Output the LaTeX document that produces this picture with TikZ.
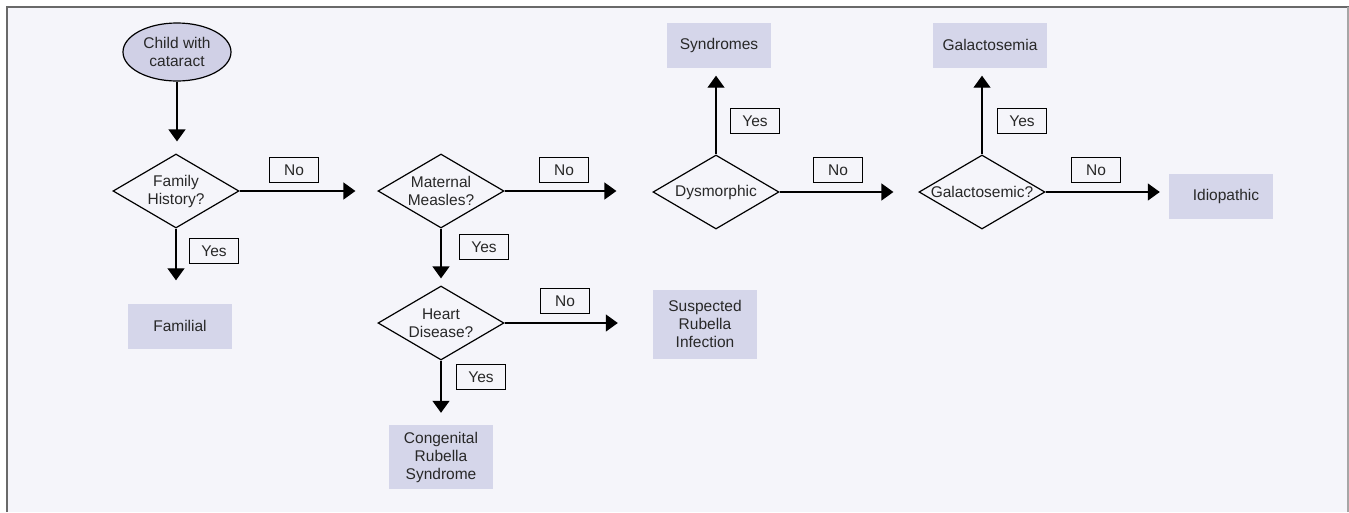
\documentclass[tikz,border=0pt]{standalone}
\usepackage{fontspec}
\setmainfont{Liberation Sans}
\usetikzlibrary{shapes.geometric,arrows.meta}
\definecolor{bgc}{RGB}{245,245,250}
\definecolor{boxc}{RGB}{213,214,234}
\definecolor{ellc}{RGB}{208,208,230}
\definecolor{framec}{RGB}{105,105,105}
\definecolor{txtc}{RGB}{40,40,40}
\begin{document}
\begin{tikzpicture}[x=1pt,y=-1pt,
  txt/.style={font=\fontsize{15.5}{18}\selectfont, align=center, text=txtc},
  result/.style={txt, fill=boxc, minimum width=104pt, minimum height=45pt, inner sep=0pt},
  dia/.style={draw, diamond, line width=1.2pt, minimum width=126pt, minimum height=74pt, inner sep=0pt},
  lab/.style={txt, draw, line width=1.2pt, minimum width=49pt, minimum height=25pt, inner sep=0pt},
  arr/.style={line width=1.3pt, -{Triangle[width=17pt,length=12pt]}}]
\useasboundingbox (0,0) rectangle (1349,512);
\fill[bgc] (7,7) rectangle (1349,512);
\draw[framec, line width=2pt] (7,512) -- (7,7) -- (1349,7);
\draw[black!35, line width=1.5pt] (1348,7) -- (1348,512);

% nodes
\node[ellipse, draw, line width=1.2pt, fill=ellc, minimum width=108pt, minimum height=58pt, inner sep=0pt, txt] (start) at (177,52) {Child with\\cataract};
\node[dia, label={[txt]center:{Family\\History?}}] (fh) at (176,191) {};
\node[result] (fam) at (180,326) {Familial};
\node[dia, label={[txt]center:{Maternal\\Measles?}}] (mm) at (441,191) {};
\node[dia, label={[txt]center:{Heart\\Disease?}}] (hd) at (441,323) {};
\node[result, minimum height=64pt] (crs) at (441,457) {Congenital\\Rubella\\Syndrome};
\node[result, minimum height=69pt] (sri) at (705,324) {Suspected\\Rubella\\Infection};
\node[dia, label={[txt]center:{Dysmorphic}}] (dys) at (716,192) {};
\node[result] (syn) at (719,45) {Syndromes};
\node[dia, label={[txt]center:{Galactosemic?}}] (gal) at (982,192) {};
\node[result, minimum width=114pt] (gsm) at (990,45) {Galactosemia};
\node[result] (idi) at (1221,196) {\hspace*{10pt}Idiopathic};

% yes/no labels
\node[lab] (l1) at (294,170) {No};
\node[lab] (l2) at (214,251) {Yes};
\node[lab] (l3) at (564,170) {No};
\node[lab] (l4) at (484,247) {Yes};
\node[lab] (l5) at (565,301) {No};
\node[lab] (l6) at (481,377) {Yes};
\node[lab] (l7) at (755,121) {Yes};
\node[lab] (l8) at (838,170) {No};
\node[lab] (l9) at (1022,121) {Yes};
\node[lab] (l10) at (1096,170) {No};

% connectors
\draw[arr, shorten >=12pt] (start.south) -- (start.south |- fh.north);
\draw[arr, shorten >=22pt] (fh.east) -- (fh.east -| mm.west);
\draw[arr, shorten >=23pt] (fh.south) -- (fh.south |- fam.north);
\draw[arr, shorten >=7pt] (mm.south) -- (hd.north);
\draw[arr, shorten >=36pt] (mm.east) -- (mm.east -| dys.west);
\draw[arr, shorten >=12pt] (hd.south) -- (hd.south |- crs.north);
\draw[arr, shorten >=35pt] (hd.east) -- (hd.east -| sri.west);
\draw[arr, shorten >=8pt] (dys.north) -- (dys.north |- syn.south);
\draw[arr, shorten >=25pt] (dys.east) -- (dys.east -| gal.west);
\draw[arr, shorten >=8pt] (gal.north) -- (gal.north |- gsm.south);
\draw[arr, shorten >=9pt] (gal.east) -- (gal.east -| idi.west);
\end{tikzpicture}
\end{document}
